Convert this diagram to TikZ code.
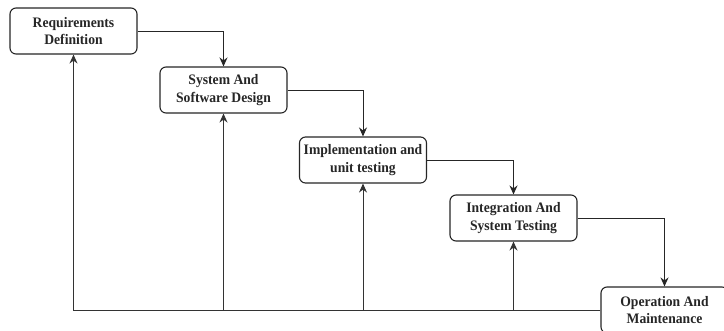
\documentclass[tikz,border=0pt]{standalone}
\usepackage{fontspec}
\setmainfont{Liberation Serif}[FakeStretch=0.94]
\usetikzlibrary{arrows.meta}
\begin{document}
\begin{tikzpicture}[x=1pt,y=-1pt,
  phase/.style={draw=black!85, line width=1.1pt, rounded corners=6pt, fill=white,
    minimum width=127pt, minimum height=46pt, inner sep=0pt, align=center,
    font=\fontsize{14.5}{17.5}\selectfont\bfseries, text=black!85},
  flow/.style={draw=black!85, line width=1pt, -{Stealth[length=9pt,width=8pt]}},
  back/.style={draw=black!80, line width=1pt, -{Stealth[length=9pt,width=8pt]}}]
\clip (0,0) rectangle (724,330);
\useasboundingbox (0,0) rectangle (724,330);
\node[phase] (r) at (73.5,31) {Requirements\\Definition};
\node[phase] (s) at (223.5,90) {System And\\Software Design};
\node[phase] (i) at (363,160) {Implementation and\\unit testing};
\node[phase] (t) at (513.5,218) {Integration And\\System Testing};
\node[phase] (o) at (664.5,310) {Operation And\\Maintenance};
\draw[flow] (r.east) -| (s.north);
\draw[flow] (s.east) -| (i.north);
\draw[flow] (i.east) -| (t.north);
\draw[flow] (t.east) -| (o.north);
\coordinate (b1) at (r.south |- o.west);
\coordinate (b2) at (s.south |- o.west);
\coordinate (b3) at (i.south |- o.west);
\coordinate (b4) at (t.south |- o.west);
\draw[back] (o.west) -- (b1) -- (r.south);
\draw[back] (b2) -- (s.south);
\draw[back] (b3) -- (i.south);
\draw[back] (b4) -- (t.south);
\end{tikzpicture}
\end{document}
